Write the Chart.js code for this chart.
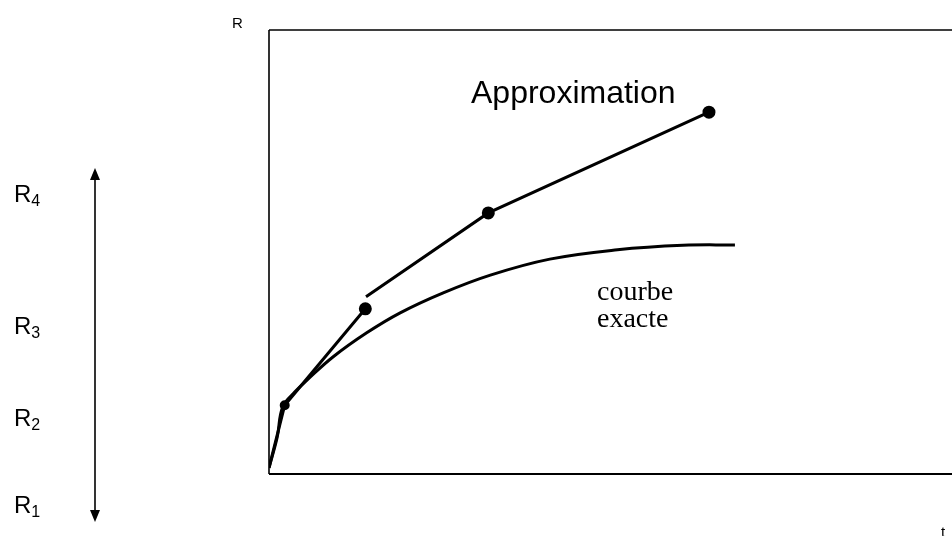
<!DOCTYPE html>
<html>
<head>
<meta charset="utf-8">
<style>
  html, body { margin: 0; padding: 0; background: #fff; }
  #wrap { width: 952px; height: 536px; position: relative; }
</style>
<script src="https://cdn.jsdelivr.net/npm/chart.js@4.4.1/dist/chart.umd.min.js"></script>
</head>
<body>
<div id="wrap"><canvas id="chart" width="952" height="536"></canvas></div>
<script>
// exact curve R(t) (arbitrary units 0..10)
const exactT = [0, 0.12, 0.20, 0.38, 0.56, 0.94, 1.43, 1.92, 2.55, 3.24, 4.11, 5.10, 6.06, 6.82]
const exactR = [0.14, 0.83, 1.51, 1.85, 2.12, 2.64, 3.18, 3.63, 4.08, 4.48, 4.84, 5.05, 5.15, 5.16]

// piecewise approximation, two broken pieces
const approxAT = [0, 0.23, 1.41]
const approxAR = [0.14, 1.55, 3.72]
const approxBT = [1.42, 3.21, 6.44]
const approxBR = [3.99, 5.88, 8.15]

const levelLabels = ['R1', 'R2', 'R3', 'R4']
const yAxisLabel = 'R'
const xAxisLabel = 't'
const approxLabel = 'Approximation'
const exactLabel = ['courbe', 'exacte']

const toPoints = (xs, ys) => xs.map((x, i) => ({x: x, y: ys[i]}))

const sketchPlugin = {
    id: 'sketch',
    afterDraw(chart) {
        const ctx = chart.ctx
        const a = chart.chartArea
        const right = chart.width
        ctx.save()
        ctx.strokeStyle = '#000'
        ctx.fillStyle = '#000'

        // frame: left axis, bottom axis, top edge
        ctx.lineWidth = 1.6
        ctx.beginPath()
        ctx.moveTo(a.left, a.top)
        ctx.lineTo(right, a.top)
        ctx.moveTo(a.left, a.top)
        ctx.lineTo(a.left, a.bottom)
        ctx.stroke()
        ctx.lineWidth = 2
        ctx.beginPath()
        ctx.moveTo(a.left, a.bottom)
        ctx.lineTo(right, a.bottom)
        ctx.stroke()

        // axis names
        ctx.font = '15px "Liberation Sans", Arial, sans-serif'
        ctx.textBaseline = 'alphabetic'
        ctx.textAlign = 'left'
        ctx.fillText(yAxisLabel, 232, 28)
        ctx.fillText(xAxisLabel, 941, 537)

        // annotations
        ctx.font = '32px "Liberation Sans", Arial, sans-serif'
        ctx.fillText(approxLabel, 471, 103)
        ctx.font = '28px "Liberation Serif", "Times New Roman", serif'
        ctx.fillText(exactLabel[0], 597, 300)
        ctx.fillText(exactLabel[1], 597, 327)

        // double arrow on the left
        const ax = 95, top = 168, bot = 522
        ctx.lineWidth = 1.6
        ctx.beginPath()
        ctx.moveTo(ax, top + 8)
        ctx.lineTo(ax, bot - 8)
        ctx.stroke()
        ctx.beginPath()
        ctx.moveTo(ax, top)
        ctx.lineTo(ax - 5, top + 12)
        ctx.lineTo(ax + 5, top + 12)
        ctx.closePath()
        ctx.fill()
        ctx.beginPath()
        ctx.moveTo(ax, bot)
        ctx.lineTo(ax - 5, bot - 12)
        ctx.lineTo(ax + 5, bot - 12)
        ctx.closePath()
        ctx.fill()

        // R1..R4 with subscripts
        const baselines = [513, 426, 334, 202]
        levelLabels.forEach((lab, i) => {
            ctx.font = '24px "Liberation Sans", Arial, sans-serif'
            ctx.fillText(lab[0], 14, baselines[i])
            const w = ctx.measureText(lab[0]).width
            ctx.font = '16px "Liberation Sans", Arial, sans-serif'
            ctx.fillText(lab.slice(1), 14 + w, baselines[i] + 4)
        })
        ctx.restore()
    }
}

new Chart(document.getElementById('chart'), {
    type: 'line',
    data: {
        datasets: [
            {
                label: 'courbe exacte',
                data: toPoints(exactT, exactR),
                borderColor: '#000',
                borderWidth: 3,
                pointRadius: 0,
                tension: 0.4
            },
            {
                label: 'approximation 1',
                data: toPoints(approxAT, approxAR),
                borderColor: '#000',
                backgroundColor: '#000',
                borderWidth: 3,
                pointRadius: [0, 3.5, 5],
                tension: 0
            },
            {
                label: 'approximation 2',
                data: toPoints(approxBT, approxBR),
                borderColor: '#000',
                backgroundColor: '#000',
                borderWidth: 3,
                pointRadius: [0, 5, 5],
                tension: 0
            }
        ]
    },
    options: {
        responsive: false,
        animation: false,
        layout: {
            padding: {left: 269, top: 30, right: 0, bottom: 62}
        },
        plugins: {
            legend: {display: false},
            tooltip: {enabled: false}
        },
        scales: {
            x: {type: 'linear', min: 0, max: 9.88, display: false},
            y: {type: 'linear', min: 0, max: 10, display: false}
        }
    },
    plugins: [sketchPlugin]
})
</script>
</body>
</html>
